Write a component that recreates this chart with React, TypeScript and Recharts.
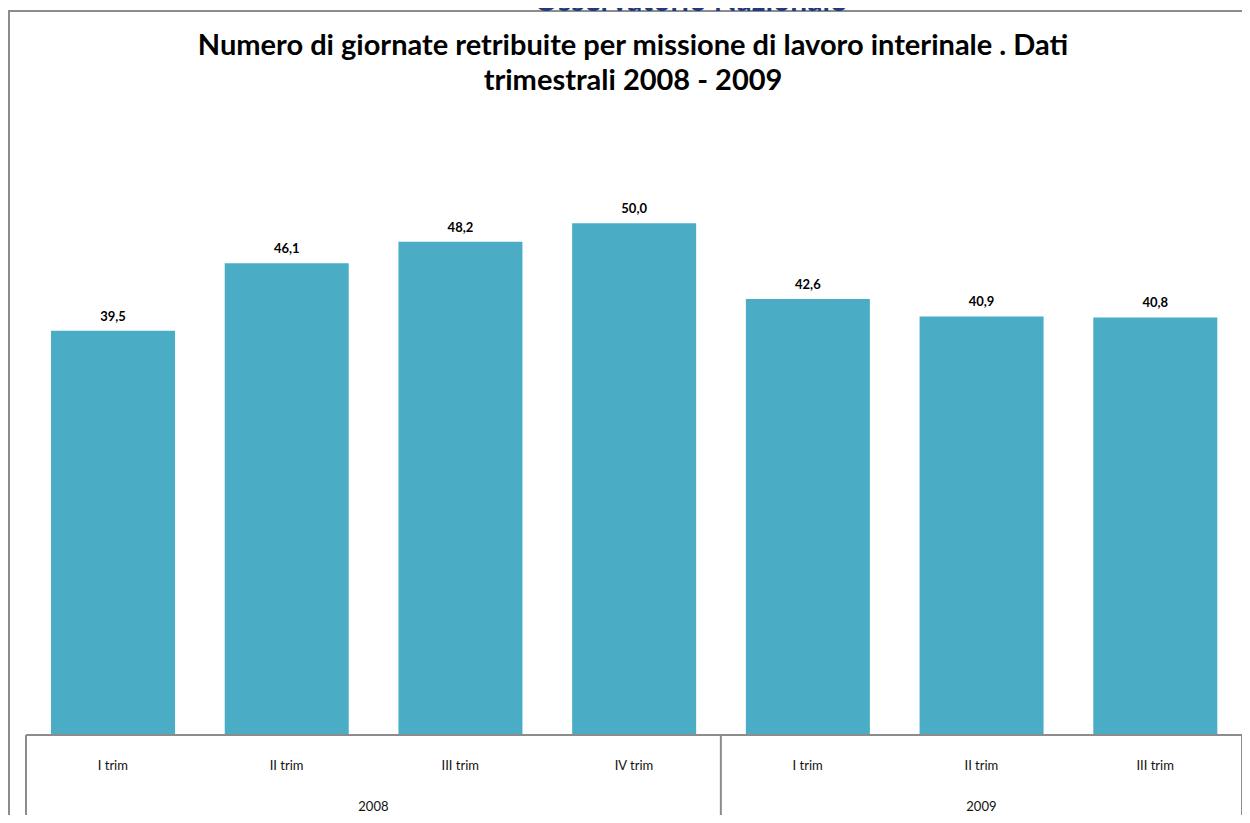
import { BarChart, Bar, XAxis, YAxis, LabelList } from "recharts";

const quarters = ["I trim", "II trim", "III trim", "IV trim", "I trim", "II trim", "III trim"];
const years = ["2008", "2008", "2008", "2008", "2009", "2009", "2009"];
const values = [39.5, 46.1, 48.2, 50.0, 42.6, 40.9, 40.8];

const data = quarters.map((q, i) => ({ key: `${years[i]}-${q}`, quarter: q, year: years[i], value: values[i] }));

const W = 1250;
const H = 823;
const AXIS_H = 88;
const M = { top: 121, right: 8, bottom: 0, left: 26 };
const PLOT_W = W - M.left - M.right;
const FONT = "Lato, 'Open Sans', sans-serif";
const GRID = "#8c8c8c";

const fmt = (v: number) => v.toFixed(1).replace(".", ",");

function CategoryTick(props: any) {
  const { x, y, index } = props;
  const bw = PLOT_W / data.length;
  const row = data[index];
  const first = index === 0 || data[index - 1].year !== row.year;
  const last = index === data.length - 1;
  let groupLen = 0;
  if (first) {
    for (let j = index; j < data.length && data[j].year === row.year; j++) groupLen++;
  }
  return (
    <g>
      <text x={x} y={y + 35} textAnchor="middle" fontSize={13} fill="#111" fontFamily={FONT}>
        {row.quarter}
      </text>
      {first && (
        <>
          <line x1={x - bw / 2} y1={y} x2={x - bw / 2} y2={y + 120} stroke={GRID} strokeWidth={2} />
          <text x={x - bw / 2 + (groupLen * bw) / 2} y={y + 76} textAnchor="middle" fontSize={13} fill="#111" fontFamily={FONT}>
            {row.year}
          </text>
        </>
      )}
      {last && <line x1={x + bw / 2} y1={y} x2={x + bw / 2} y2={y + 120} stroke={GRID} strokeWidth={2} />}
    </g>
  );
}

export default function App() {
  return (
    <div style={{ position: "relative", width: W, height: H, margin: -8, overflow: "hidden", background: "#fff", fontFamily: FONT }}>
      <div
        style={{
          position: "absolute",
          left: 8,
          top: 10,
          width: W + 20,
          height: H + 20,
          borderLeft: `2px solid ${GRID}`,
          borderTop: `2px solid ${GRID}`,
        }}
      />
      <div
        style={{
          position: "absolute",
          left: 0,
          width: 1380,
          top: -16,
          textAlign: "center",
          fontSize: 30,
          fontWeight: 700,
          color: "#1f3a80",
          lineHeight: "30px",
          whiteSpace: "nowrap",
        }}
      >
        Osservatorio Nazionale
      </div>
      <div
        style={{
          position: "absolute",
          left: 0,
          width: 1266,
          top: 26,
          textAlign: "center",
          fontSize: 29,
          fontWeight: 700,
          color: "#000",
          lineHeight: "35px",
        }}
      >
        Numero di giornate retribuite per missione di lavoro interinale . Dati
        <br />
        trimestrali 2008 - 2009
      </div>
      <div style={{ position: "absolute", left: 0, top: 0 }}>
        <BarChart width={W} height={H} data={data} margin={M} barCategoryGap="14.4%">
          <XAxis
            dataKey="key"
            tick={<CategoryTick />}
            tickLine={false}
            tickSize={0}
            tickMargin={0}
            interval={0}
            height={AXIS_H}
            axisLine={{ stroke: GRID, strokeWidth: 2 }}
          />
          <YAxis hide domain={[0, 60]} />
          <Bar dataKey="value" fill="#4BACC6" isAnimationActive={false}>
            <LabelList
              dataKey="value"
              position="top"
              offset={10}
              formatter={(v: any) => fmt(Number(v))}
              style={{ fontSize: 13, fontWeight: 700, fill: "#000", fontFamily: FONT }}
            />
          </Bar>
        </BarChart>
      </div>
    </div>
  );
}
